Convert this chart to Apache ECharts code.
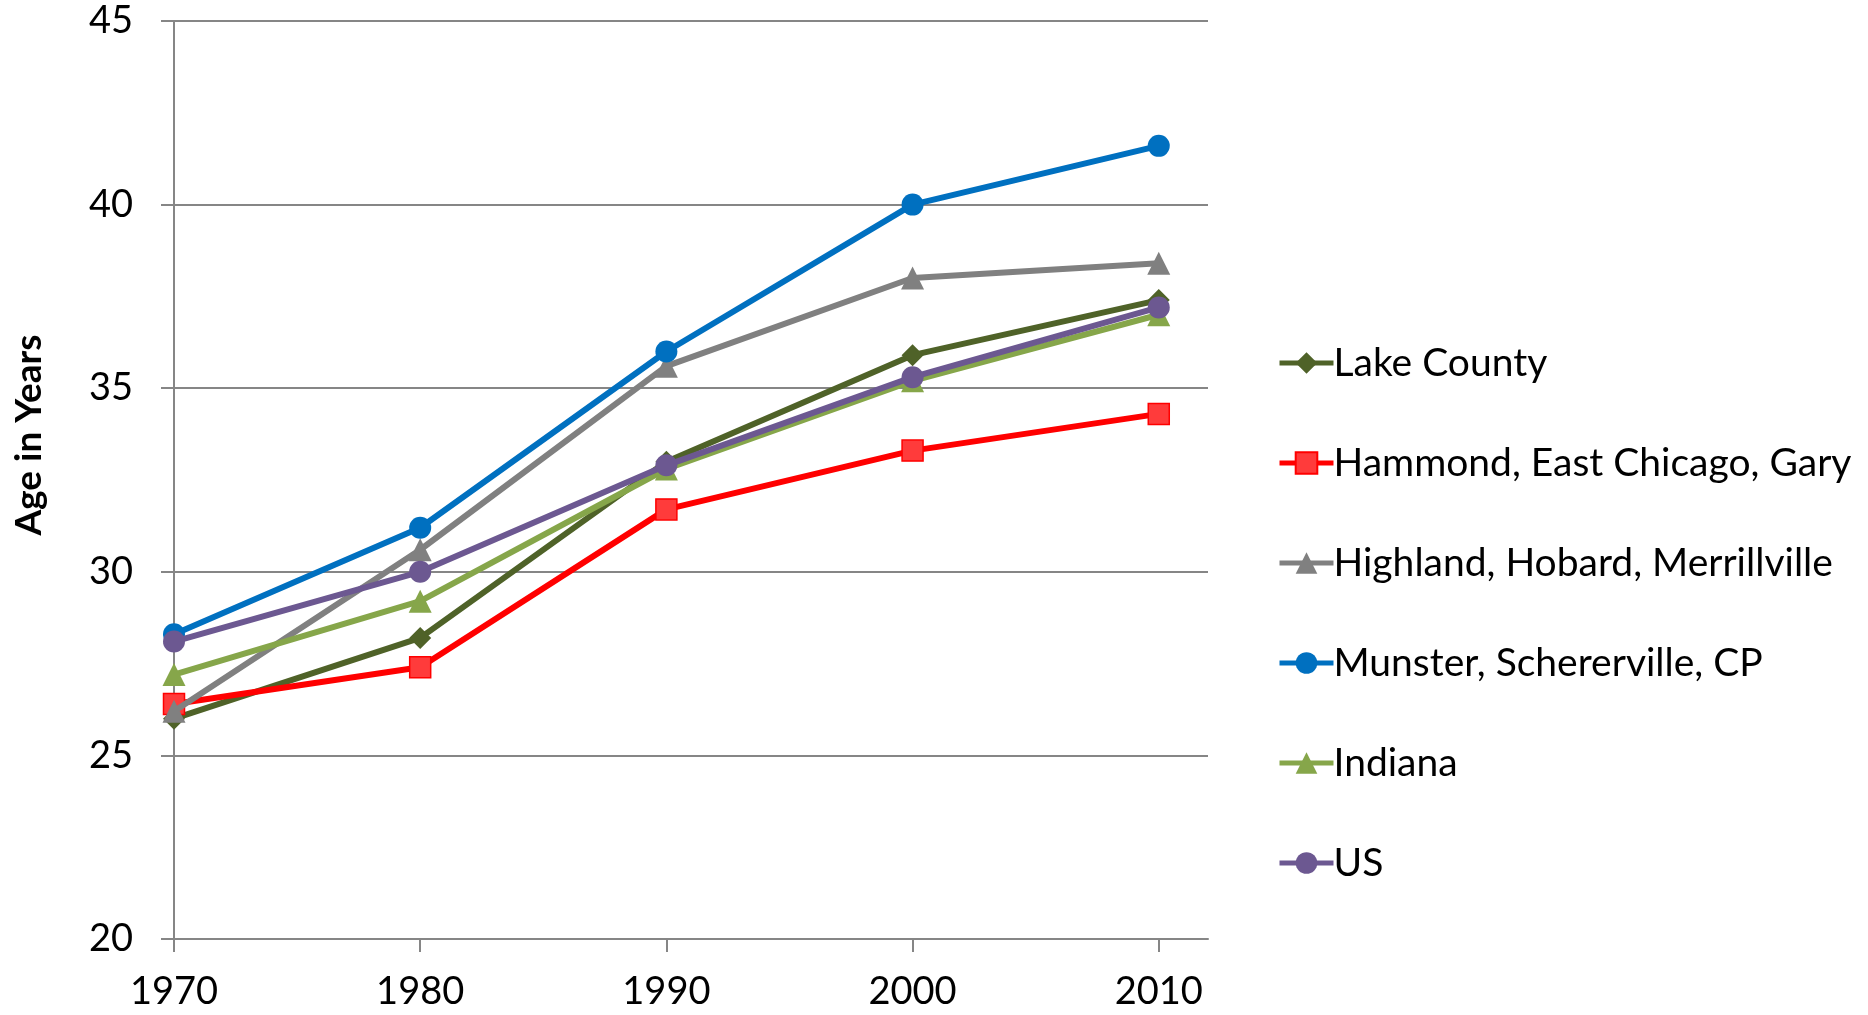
<!DOCTYPE html>
<html>
<head>
<meta charset="utf-8">
<script src="https://cdn.jsdelivr.net/npm/echarts@6/dist/echarts.min.js"></script>
<style>
html,body{margin:0;padding:0;background:#fff;}
#c{width:1868px;height:1015px;}
</style>
</head>
<body>
<div id="c"></div>
<script>
var years = [1970, 1980, 1990, 2000, 2010];
var seriesNames = ['Lake County', 'Hammond, East Chicago, Gary', 'Highland, Hobard, Merrillville', 'Munster, Schererville, CP', 'Indiana', 'US'];
var lakeCounty = [26.0, 28.2, 33.0, 35.9, 37.4];
var hammond = [26.4, 27.4, 31.7, 33.3, 34.3];
var highland = [26.2, 30.6, 35.6, 38.0, 38.4];
var munster = [28.3, 31.2, 36.0, 40.0, 41.6];
var indiana = [27.2, 29.2, 32.8, 35.2, 37.0];
var us = [28.1, 30.0, 32.9, 35.3, 37.2];
var yTicks = [20, 25, 30, 35, 40, 45];

var values = [lakeCounty, hammond, highland, munster, indiana, us];
var colors = ['#4F6228', '#FF0000', '#808080', '#0070C0', '#86A64A', '#6C5891'];
var markerFill = ['#4F6228', '#FF3B3B', '#808080', '#0070C0', '#86A64A', '#6C5891'];
var symbols = ['diamond', 'rect', 'triangle', 'circle', 'triangle', 'circle'];
var symbolSizes = [22, 21, 23, 22, 23, 22];

function pairs(arr) { return years.map(function (y, i) { return [y, arr[i]]; }); }

var font = 'Lato, "Noto Sans", sans-serif';
var series = seriesNames.map(function (n, i) {
  return {
    name: n,
    type: 'line',
    data: pairs(values[i]),
    symbol: symbols[i],
    symbolSize: symbolSizes[i],
    showAllSymbol: true,
    lineStyle: { color: colors[i], width: 6 },
    itemStyle: { color: markerFill[i], borderColor: colors[i], borderWidth: i === 1 ? 1.5 : 0 },
    z: 2 + i
  };
});

var chart = echarts.init(document.getElementById('c'));
chart.setOption({
  animation: false,
  backgroundColor: '#fff',
  grid: { left: 174, right: 660, top: 21, bottom: 76, containLabel: false },
  xAxis: {
    type: 'value',
    min: 1970, max: 2012, interval: 10,
    axisLine: { show: true, lineStyle: { color: '#868686', width: 2 } },
    axisTick: { show: true, length: 13, lineStyle: { color: '#868686', width: 2 }, customValues: years },
    axisLabel: { customValues: years, margin: 34, color: '#000', fontSize: 38, fontFamily: font,
      formatter: function (v) { return String(v); } },
    splitLine: { show: false }
  },
  yAxis: {
    type: 'value',
    min: 20, max: 45, interval: 5,
    name: 'Age in Years',
    nameLocation: 'middle',
    nameGap: 126,
    nameRotate: 90,
    nameTextStyle: { color: '#000', fontSize: 37, fontWeight: 'bold', fontFamily: font, padding: [0, 0, 0, 90] },
    axisLine: { show: true, lineStyle: { color: '#868686', width: 2 } },
    axisTick: { show: true, length: 13, lineStyle: { color: '#868686', width: 2 } },
    axisLabel: { margin: 41, color: '#000', fontSize: 38, fontFamily: font },
    splitLine: { show: true, lineStyle: { color: '#868686', width: 2 } }
  },
  legend: {
    orient: 'vertical',
    left: 1272,
    top: 338,
    itemWidth: 54,
    itemHeight: 27,
    itemGap: 60,
    data: seriesNames,
    lineStyle: { width: 5 },
    textStyle: { color: '#000', fontSize: 39, fontFamily: font, lineHeight: 40, padding: [0, 0, 0, -5] }
  },
  series: series
});
</script>
</body>
</html>
